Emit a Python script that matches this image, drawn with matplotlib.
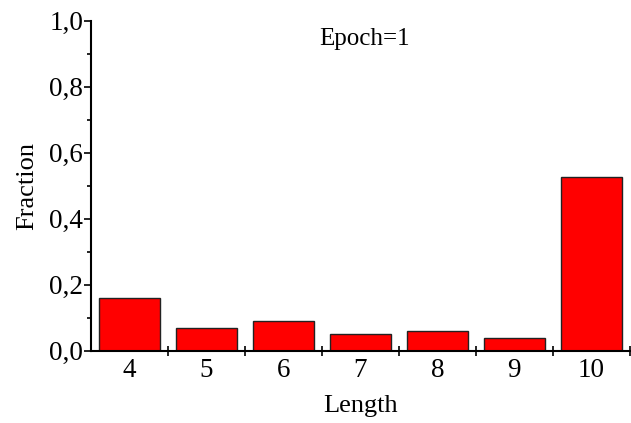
import numpy as np
import matplotlib.pyplot as plt
from matplotlib.ticker import MultipleLocator, FixedLocator

# Fraction of sequences per length after the first epoch
lengths = [4, 5, 6, 7, 8, 9, 10]
fractions = [0.161, 0.068, 0.091, 0.051, 0.059, 0.039, 0.525]
ytick_values = [0.0, 0.2, 0.4, 0.6, 0.8, 1.0]
ytick_labels = ["0,0", "0,2", "0,4", "0,6", "0,8", "1,0"]

plt.rcParams['font.family'] = ['Liberation Serif', 'DejaVu Serif']

fig = plt.figure(figsize=(6.31, 4.23), dpi=100)
ax = fig.add_axes([0.144, 0.171, 0.854, 0.780])

ax.bar(lengths, fractions, width=0.79, color="#ff0000", edgecolor="#222222", linewidth=1.0)

ax.set_xlim(3.5, 10.5)
ax.set_ylim(0, 1.0)

ax.set_xticks(lengths)
ax.set_xticklabels([str(v) for v in lengths])
ax.xaxis.set_minor_locator(FixedLocator(np.arange(4.5, 11, 1.0)))
ax.tick_params(axis="x", which="major", length=0, pad=5, labelsize=19.5)
ax.tick_params(axis="x", which="minor", direction="inout", length=7, width=1.2)

ax.set_yticks(ytick_values)
ax.set_yticklabels(ytick_labels)
ax.yaxis.set_minor_locator(MultipleLocator(0.1))
ax.tick_params(axis="y", which="major", direction="out", length=5, width=1.2, labelsize=19.5, pad=0.5)
ax.tick_params(axis="y", which="minor", direction="out", length=3, width=1.2)

ax.spines["top"].set_visible(False)
ax.spines["right"].set_visible(False)
ax.spines["left"].set_linewidth(1.5)
ax.spines["bottom"].set_linewidth(1.5)

ax.set_xlabel("Length", fontsize=19, labelpad=9)
ax.set_ylabel("Fraction", fontsize=19, labelpad=8)

ax.text(0.507, 0.944, "Epoch=1", transform=ax.transAxes, fontsize=18, ha="center", va="center")

fig.savefig("out.png", dpi=100)
